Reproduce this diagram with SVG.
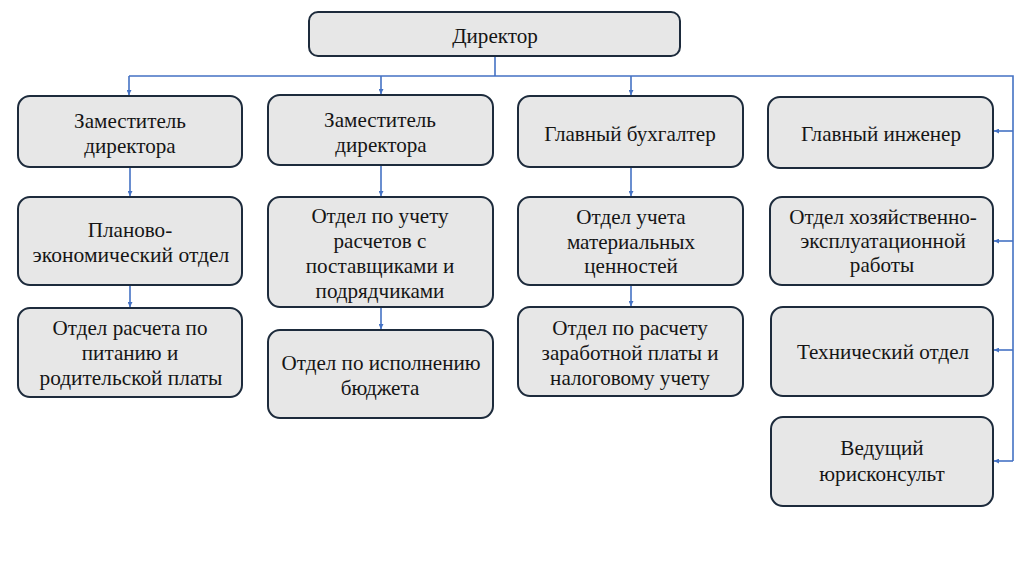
<svg xmlns="http://www.w3.org/2000/svg" width="1024" height="563" viewBox="0 0 1024 563">
<style>
.box{fill:#e7e7e7;stroke:#1d2b3c;stroke-width:2}
.c{fill:none;stroke:#4472c4;stroke-width:1.6}
</style>
<defs>
<marker id="ah" viewBox="0 0 8 8" refX="8" refY="4" markerWidth="5" markerHeight="5" orient="auto" markerUnits="userSpaceOnUse">
<path d="M0,0 L8,4 L0,8 z" fill="#4472c4"/>
</marker>
</defs>
<rect width="1024" height="563" fill="#fff"/>
<g id="connectors">
<path class="c" d="M495,56 V76"/>
<path class="c" d="M129,76 H1013 V461"/>
<path class="c" d="M129,76 V95" marker-end="url(#ah)"/>
<path class="c" d="M381,76 V94" marker-end="url(#ah)"/>
<path class="c" d="M631,76 V95" marker-end="url(#ah)"/>
<path class="c" d="M1013,131 H994" marker-end="url(#ah)"/>
<path class="c" d="M1013,241 H994" marker-end="url(#ah)"/>
<path class="c" d="M1013,350 H994" marker-end="url(#ah)"/>
<path class="c" d="M1013,461 H994" marker-end="url(#ah)"/>
<path class="c" d="M130,167 V196" marker-end="url(#ah)"/>
<path class="c" d="M130,285 V307" marker-end="url(#ah)"/>
<path class="c" d="M381,165 V196" marker-end="url(#ah)"/>
<path class="c" d="M381,307 V329" marker-end="url(#ah)"/>
<path class="c" d="M631,167 V196" marker-end="url(#ah)"/>
<path class="c" d="M631,285 V306" marker-end="url(#ah)"/>
</g>
<g id="director"><rect class="box" x="309" y="12" width="371" height="44" rx="9"/><text font-family="Liberation Serif" font-size="22" fill="#151515" text-anchor="middle" transform="translate(495,43) scale(0.96,1)">Директор</text></g>
<g id="dep1"><rect class="box" x="18" y="96" width="224" height="71" rx="12"/><text font-family="Liberation Serif" font-size="22" fill="#151515" text-anchor="middle" transform="translate(130,128) scale(0.96,1)">Заместитель</text><text font-family="Liberation Serif" font-size="22" fill="#151515" text-anchor="middle" transform="translate(130,153) scale(0.96,1)">директора</text></g>
<g id="plan"><rect class="box" x="18" y="197" width="224" height="88" rx="12"/><text font-family="Liberation Serif" font-size="22" fill="#151515" text-anchor="middle" transform="translate(130,237) scale(0.96,1)">Планово-</text><text font-family="Liberation Serif" font-size="22" fill="#151515" text-anchor="middle" transform="translate(131,262) scale(0.98,1)">экономический отдел</text></g>
<g id="food"><rect class="box" x="18" y="308" width="224" height="89" rx="12"/><text font-family="Liberation Serif" font-size="22" fill="#151515" text-anchor="middle" transform="translate(130,335) scale(0.96,1)">Отдел расчета по</text><text font-family="Liberation Serif" font-size="22" fill="#151515" text-anchor="middle" transform="translate(130,360) scale(0.96,1)">питанию и</text><text font-family="Liberation Serif" font-size="22" fill="#151515" text-anchor="middle" transform="translate(131,385) scale(0.97,1)">родительской платы</text></g>
<g id="dep2"><rect class="box" x="268" y="95" width="225" height="70" rx="12"/><text font-family="Liberation Serif" font-size="22" fill="#151515" text-anchor="middle" transform="translate(380,127) scale(0.96,1)">Заместитель</text><text font-family="Liberation Serif" font-size="22" fill="#151515" text-anchor="middle" transform="translate(381,152) scale(0.96,1)">директора</text></g>
<g id="suppliers"><rect class="box" x="268" y="197" width="225" height="110" rx="12"/><text font-family="Liberation Serif" font-size="22" fill="#151515" text-anchor="middle" transform="translate(380,223) scale(0.96,1)">Отдел по учету</text><text font-family="Liberation Serif" font-size="22" fill="#151515" text-anchor="middle" transform="translate(380,248) scale(0.96,1)">расчетов с</text><text font-family="Liberation Serif" font-size="22" fill="#151515" text-anchor="middle" transform="translate(380,273) scale(0.96,1)">поставщиками и</text><text font-family="Liberation Serif" font-size="22" fill="#151515" text-anchor="middle" transform="translate(380,298) scale(0.96,1)">подрядчиками</text></g>
<g id="budget"><rect class="box" x="268" y="330" width="225" height="88" rx="12"/><text font-family="Liberation Serif" font-size="22" fill="#151515" text-anchor="middle" transform="translate(381,370) scale(0.96,1)">Отдел по исполнению</text><text font-family="Liberation Serif" font-size="22" fill="#151515" text-anchor="middle" transform="translate(380,395) scale(0.96,1)">бюджета</text></g>
<g id="accountant"><rect class="box" x="518" y="96" width="225" height="71" rx="12"/><text font-family="Liberation Serif" font-size="22" fill="#151515" text-anchor="middle" transform="translate(630,141) scale(0.96,1)">Главный бухгалтер</text></g>
<g id="materials"><rect class="box" x="518" y="197" width="225" height="88" rx="12"/><text font-family="Liberation Serif" font-size="22" fill="#151515" text-anchor="middle" transform="translate(631,224) scale(0.96,1)">Отдел учета</text><text font-family="Liberation Serif" font-size="22" fill="#151515" text-anchor="middle" transform="translate(631,249) scale(0.96,1)">материальных</text><text font-family="Liberation Serif" font-size="22" fill="#151515" text-anchor="middle" transform="translate(631,273) scale(0.96,1)">ценностей</text></g>
<g id="salary"><rect class="box" x="518" y="307" width="225" height="89" rx="12"/><text font-family="Liberation Serif" font-size="22" fill="#151515" text-anchor="middle" transform="translate(630,335) scale(0.96,1)">Отдел по расчету</text><text font-family="Liberation Serif" font-size="22" fill="#151515" text-anchor="middle" transform="translate(630,360) scale(0.96,1)">заработной платы и</text><text font-family="Liberation Serif" font-size="22" fill="#151515" text-anchor="middle" transform="translate(630,385) scale(0.96,1)">налоговому учету</text></g>
<g id="engineer"><rect class="box" x="768" y="97" width="225" height="71" rx="12"/><text font-family="Liberation Serif" font-size="22" fill="#151515" text-anchor="middle" transform="translate(881,141) scale(0.96,1)">Главный инженер</text></g>
<g id="household"><rect class="box" x="770" y="197" width="223" height="88" rx="12"/><text font-family="Liberation Serif" font-size="22" fill="#151515" text-anchor="middle" transform="translate(883,224) scale(0.96,1)">Отдел хозяйственно-</text><text font-family="Liberation Serif" font-size="22" fill="#151515" text-anchor="middle" transform="translate(883,248) scale(0.96,1)">эксплуатационной</text><text font-family="Liberation Serif" font-size="22" fill="#151515" text-anchor="middle" transform="translate(882,272) scale(0.96,1)">работы</text></g>
<g id="technical"><rect class="box" x="771" y="307" width="222" height="89" rx="12"/><text font-family="Liberation Serif" font-size="22" fill="#151515" text-anchor="middle" transform="translate(883,359) scale(0.96,1)">Технический отдел</text></g>
<g id="lawyer"><rect class="box" x="771" y="417" width="222" height="89" rx="12"/><text font-family="Liberation Serif" font-size="22" fill="#151515" text-anchor="middle" transform="translate(882,455) scale(0.96,1)">Ведущий</text><text font-family="Liberation Serif" font-size="22" fill="#151515" text-anchor="middle" transform="translate(882,481) scale(0.96,1)">юрисконсульт</text></g>
</svg>
